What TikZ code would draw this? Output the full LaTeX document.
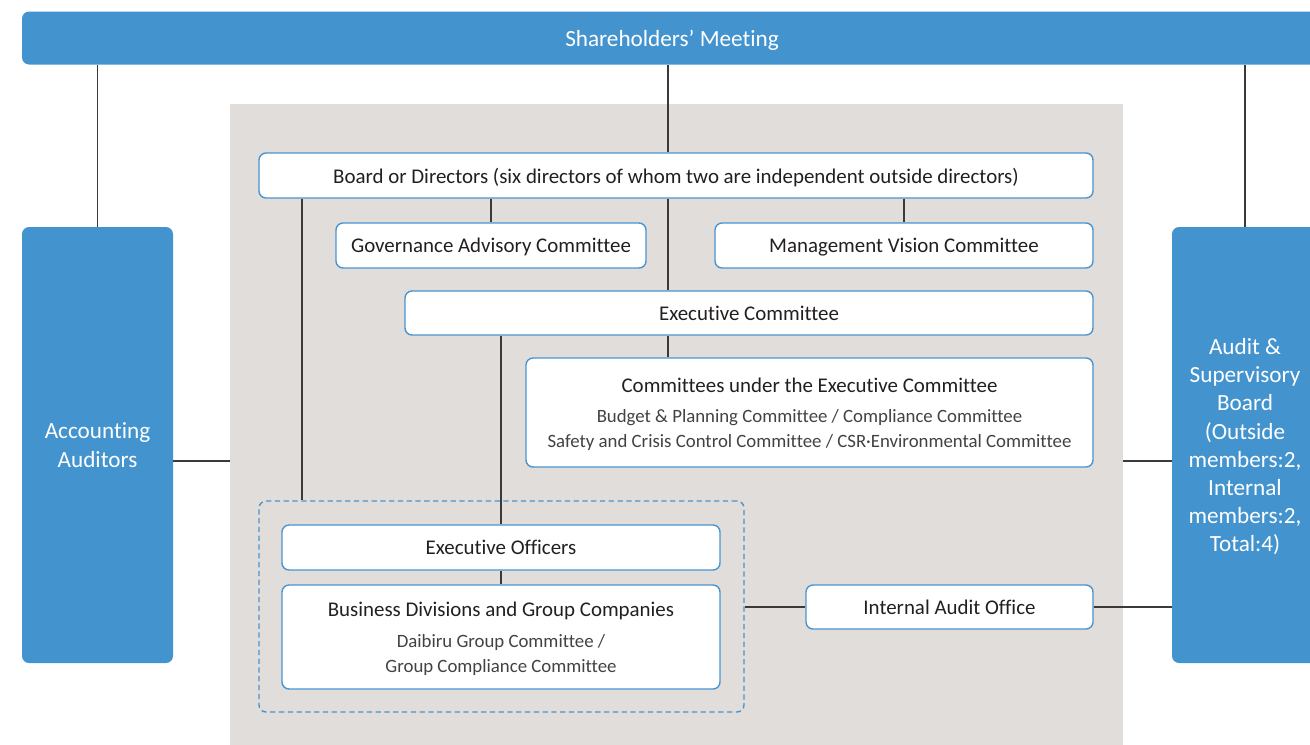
\documentclass[tikz,border=0pt]{standalone}
\usepackage{fontspec}
\setmainfont{Carlito}[Ligatures=CommonOff]
\usetikzlibrary{positioning}
\definecolor{sharebl}{HTML}{4393CE}
\definecolor{boxline}{HTML}{4A94D0}
\definecolor{bggray}{HTML}{E1DDDA}
\definecolor{conn}{HTML}{3A3A3A}
\definecolor{txt}{HTML}{231F20}
\newcommand{\lite}{\fontsize{10.7}{14.2}\selectfont\color{txt!85}}
\tikzset{
	wh/.style 2 args={minimum width=#1*0.02cm,minimum height=#2*0.02cm},
	bluebox/.style={fill=sharebl,rounded corners=4pt,text=white,align=center,inner sep=0pt,text depth=0pt,font=\fontsize{13.2}{16}\selectfont},
	box/.style={draw=boxline,line width=0.8pt,fill=white,rounded corners=4pt,align=center,inner sep=0pt,text depth=0pt,text=txt,font=\fontsize{11.9}{14}\selectfont},
	dashgroup/.style={draw=boxline,line width=0.8pt,dash pattern=on 3pt off 2pt,rounded corners=4pt,inner sep=0pt},
	link/.style={draw=conn,line width=0.8pt}
}

\begin{document}
\begin{tikzpicture}[x=0.02cm,y=-0.02cm]
	\path[use as bounding box] (0,0) rectangle (1310,744);
	\clip (0,0) rectangle (1310,744);
	% company area
	\node[fill=bggray,wh={893}{660},inner sep=0pt] (company) at (676.5,434) {};
	% outside
	\node[bluebox,wh={1300}{53}] (share) at (672,38) {Shareholders’ Meeting};
	\node[bluebox,wh={151}{436}] (acct) at (97.5,445) {Accounting\\Auditors};
	\node[bluebox,wh={146}{436}] (audit) at (1245,445) {Audit \&\\Supervisory\\Board\\(Outside\\members:2,\\Internal\\members:2,\\Total:4)};
	% inside
	\node[box,wh={834}{45}] (board) at (676,175.5) {Board or Directors (six directors of whom two are independent outside directors)};
	\node[box,wh={310}{45}] (gov) at (491,245.5) {Governance Advisory Committee};
	\node[box,wh={378}{45}] (vision) at (904,245.5) {Management Vision Committee};
	\node[box,wh={688}{44}] (exec) at (749,313) {Executive Committee};
	\node[box,wh={567}{109}] (sub) at (809.5,412.5) {Committees under the Executive Committee\\[3.6pt]{\lite Budget \& Planning Committee / Compliance Committee}\\{\lite Safety and Crisis Control Committee / CSR·Environmental Committee}};
	\node[box,wh={438}{45}] (officers) at (501,547.5) {Executive Officers};
	\node[box,wh={438}{104}] (divisions) at (501,637) {Business Divisions and Group Companies\\[3.6pt]{\lite Daibiru Group Committee /}\\{\lite Group Compliance Committee}};
	\node[dashgroup,wh={485}{211}] (execgroup) at (501.5,606.5) {};
	\node[box,wh={287}{44}] (internal) at (949.5,607) {Internal Audit Office};
	% connectors
	\coordinate (spine) at (668,0);
	\coordinate (trunk) at (302,0);
	\coordinate (midline) at (0,461);
	\draw[link] (share.south -| acct.north) -- (acct.north);
	\draw[link] (share.south -| audit.north) -- (audit.north);
	\draw[link] (share.south -| spine) -- (board.north -| spine);
	\draw[link] (board.south -| spine) -- (exec.north -| spine);
	\draw[link] (exec.south -| spine) -- (sub.north -| spine);
	\draw[link] (board.south -| gov.north) -- (gov.north);
	\draw[link] (board.south -| vision.north) -- (vision.north);
	\draw[link] (board.south -| trunk) -- (execgroup.north -| trunk);
	\draw[link] (exec.south -| officers.north) -- (officers.north);
	\draw[link] (officers) -- (divisions);
	\draw[link] (execgroup.east |- internal.west) -- (internal.west);
	\draw[link] (internal.east) -- (audit.west |- internal.east);
	\draw[link] (acct.east |- midline) -- (company.west |- midline);
	\draw[link] (company.east |- midline) -- (audit.west |- midline);
\end{tikzpicture}
\end{document}
